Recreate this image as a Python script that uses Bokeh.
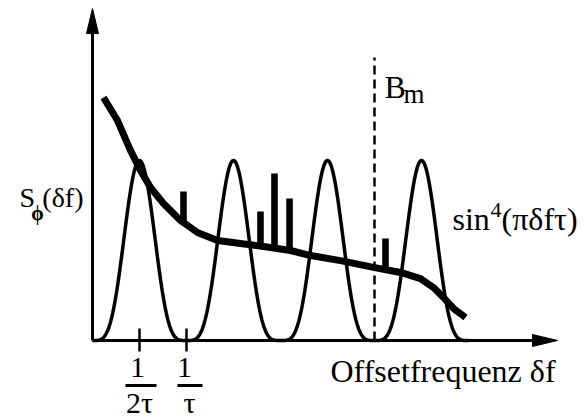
import numpy as np
from bokeh.plotting import figure
from bokeh.models import Label
from bokeh.embed import file_html
from bokeh.resources import INLINE

# Offset frequency in units of 1/tau, spectral density in units of the lobe peak
noise_x = [0.117, 0.266, 0.404, 0.511, 0.617, 0.755, 0.936, 1.117, 1.330, 1.574,
           1.894, 2.106, 2.319, 2.638, 2.989, 3.277, 3.489, 3.628, 3.734, 3.840, 3.968]
noise_y = [1.350, 1.222, 1.056, 0.944, 0.850, 0.761, 0.667, 0.600, 0.556, 0.539,
           0.517, 0.500, 0.472, 0.444, 0.406, 0.378, 0.344, 0.294, 0.239, 0.178, 0.128]

# Discrete spurs sitting on the noise floor
spur_x = [0.968, 1.787, 1.936, 2.096, 3.117]
spur_top = [0.828, 0.717, 0.928, 0.789, 0.567]

# Measurement bandwidth B_m and the delay-line transfer function range
bm = 3.0
tau = 1.0
lobe_end = 4.0

tick_pos = [0.5, 1.0]
tick_num = ["1", "1"]
tick_den = ["2τ", "τ"]

XR = (-0.9787, 5.234)
YR = (-0.4389, 1.8889)
X_TIP = 4.947
Y_TIP = 1.844

p = figure(width=584, height=419, x_range=XR, y_range=YR,
           x_axis_type=None, y_axis_type=None, toolbar_location=None,
           output_backend="svg", min_border=0, outline_line_color=None,
           background_fill_color="white", border_fill_color="white")
p.grid.visible = False

# sin^4(pi*df*tau) lobes
f = np.linspace(0, lobe_end, 800)
h = np.sin(np.pi * f * tau) ** 4
p.line(f, h, line_color="black", line_width=3.5)

# dashed bandwidth marker
p.segment(x0=[bm], y0=[0], x1=[bm], y1=[1.572], line_color="black",
          line_width=2.5, line_dash="9 5")

# spurs drawn from the noise floor up
spur_bottom = np.interp(spur_x, noise_x, noise_y) - 0.01
p.vbar(x=spur_x, bottom=spur_bottom, top=spur_top, width=0.07,
       fill_color="black", line_color=None)

# phase-noise floor
p.line(noise_x, noise_y, line_color="black", line_width=7,
       line_join="round", line_cap="butt")

# axes with arrow heads
hx = 6 / 94.0
hy = 25 / 180.0
ax = 25 / 94.0
ay = 6 / 180.0
p.segment(x0=[0, 0], y0=[0, 0], x1=[X_TIP - ax, 0], y1=[0, Y_TIP - hy],
          line_color="black", line_width=3)
p.patches(xs=[[0, -hx, hx], [X_TIP, X_TIP - ax, X_TIP - ax]],
          ys=[[Y_TIP, Y_TIP - hy, Y_TIP - hy], [0, ay, -ay]],
          fill_color="black", line_color="black")

# ticks
p.segment(x0=tick_pos, y0=[0.067] * 2, x1=tick_pos, y1=[-0.061] * 2,
          line_color="black", line_width=2.5)

FONT = "'Liberation Serif', 'Times New Roman', serif"


def lab(x, y, text, size, align="left", style="normal"):
    p.add_layout(Label(x=x, y=y, text=text, text_font=FONT,
                       text_font_size=f"{size}px", text_align=align,
                       text_baseline="middle", text_color="black",
                       text_font_style=style))


# fraction tick labels
num_x = [0.48, 0.979]
den_x = [0.5, 1.032]
bars = [(0.351, 0.681), (0.904, 1.170)]
for nx, dx, nt, dt, (b0, b1) in zip(num_x, den_x, tick_num, tick_den, bars):
    lab(nx, -0.149, nt, 30, align="center")
    lab(dx, -0.344, dt, 30, align="center")
    p.segment(x0=[b0], y0=[-0.25], x1=[b1], y1=[-0.25], line_color="black",
              line_width=3)

lab(2.532, -0.172, "Offsetfrequenz δf", 32)
lab(3.106, 1.411, "B", 32)
lab(3.309, 1.367, "m", 27)

lab(-0.777, 0.792, "S", 28)
lab(-0.585, 0.711, "ϕ", 20, align="center", style="bold")
lab(-0.096, 0.792, "(δf)", 28, align="right")

lab(3.830, 0.677, "sin", 32)
lab(4.234, 0.724, "4", 22)
lab(4.351, 0.677, "(πδfτ)", 32)

open("out.html", "w").write(file_html(p, INLINE))
